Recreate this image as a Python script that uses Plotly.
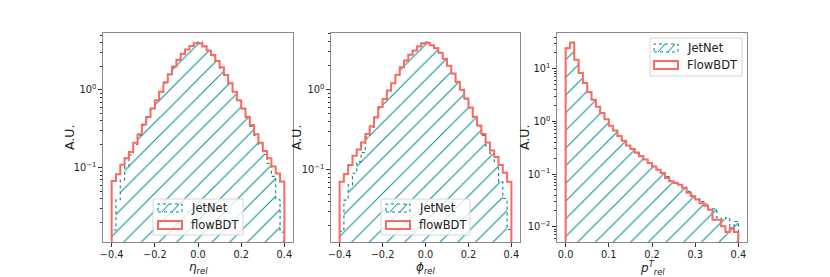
import numpy as np
import plotly.graph_objects as go

W, H = 830, 277
FONT = "DejaVu Sans"
TEAL = "#008b8b"
RED = "#f96b60"
FRAME = "#8a8a8a"

# ---------------- data ----------------
eta_bins = (-0.4, 0.4, 40)
phi_bins = (-0.4, 0.4, 40)
pt_bins = (0.0, 0.4, 40)

eta_jetnet = [0.016, 0.039, 0.07, 0.104, 0.147, 0.2, 0.26, 0.35, 0.44, 0.57,
              0.73, 0.94, 1.23, 1.57, 1.97, 2.4, 2.88, 3.3, 3.7, 4.05,
              4.1, 3.65, 3.2, 2.75, 2.3, 1.9, 1.52, 1.2, 0.94, 0.73,
              0.57, 0.44, 0.34, 0.26, 0.2, 0.15, 0.115, 0.078, 0.039, 0.015]
eta_flowbdt = [0.068, 0.083, 0.11, 0.133, 0.16, 0.21, 0.27, 0.36, 0.45, 0.58,
               0.74, 0.95, 1.25, 1.59, 1.99, 2.43, 2.9, 3.3, 3.67, 3.97,
               3.95, 3.6, 3.2, 2.8, 2.35, 1.95, 1.55, 1.22, 0.95, 0.74,
               0.58, 0.45, 0.355, 0.27, 0.21, 0.165, 0.133, 0.104, 0.085, 0.067]

phi_jetnet = [0.017, 0.042, 0.065, 0.091, 0.127, 0.165, 0.26, 0.34, 0.45, 0.6,
              0.76, 0.97, 1.2, 1.53, 1.9, 2.3, 2.75, 3.1, 3.5, 3.85,
              3.95, 3.6, 3.3, 2.9, 2.42, 1.98, 1.58, 1.24, 0.99, 0.77,
              0.6, 0.45, 0.35, 0.27, 0.2, 0.16, 0.127, 0.071, 0.044, 0.018]
phi_flowbdt = [0.071, 0.089, 0.115, 0.15, 0.18, 0.22, 0.28, 0.35, 0.455, 0.61,
               0.77, 0.98, 1.21, 1.54, 1.92, 2.32, 2.74, 3.1, 3.47, 3.8,
               3.85, 3.6, 3.3, 2.9, 2.45, 2.0, 1.6, 1.25, 1.0, 0.78,
               0.6, 0.46, 0.36, 0.28, 0.22, 0.175, 0.145, 0.115, 0.092, 0.071]

pt_jetnet = [24.5, 31.0, 15.0, 8.4, 5.4, 3.65, 2.6, 1.92, 1.45, 1.1,
             0.84, 0.67, 0.54, 0.43, 0.35, 0.3, 0.26, 0.215, 0.19, 0.165,
             0.14, 0.123, 0.107, 0.09, 0.075, 0.07, 0.064, 0.057, 0.047, 0.04,
             0.034, 0.03, 0.027, 0.022, 0.022, 0.0148, 0.0138, 0.0148, 0.0102, 0.0126]
pt_flowbdt = [24.7, 31.5, 14.8, 8.3, 5.35, 3.6, 2.58, 1.9, 1.44, 1.1,
              0.83, 0.67, 0.53, 0.43, 0.35, 0.3, 0.255, 0.22, 0.19, 0.162,
              0.14, 0.121, 0.105, 0.084, 0.073, 0.068, 0.063, 0.055, 0.044, 0.038,
              0.033, 0.028, 0.025, 0.021, 0.0136, 0.0136, 0.0102, 0.0079, 0.0095, 0.0079]

x_labels = ["<i>η</i><sub><i>rel</i></sub>", "<i>ϕ</i><sub><i>rel</i></sub>",
            "<i>p</i><sup><i>T</i></sup><sub><i>rel</i></sub>"]
legend_names = [("JetNet", "flowBDT"), ("JetNet", "flowBDT"), ("JetNet", "FlowBDT")]
sym_ticks = [-0.4, -0.2, 0.0, 0.2, 0.4]
sym_ticktext = ["−0.4", "−0.2", "0.0", "0.2", "0.4"]
pt_ticks = [0.0, 0.1, 0.2, 0.3, 0.4]
pt_ticktext = ["0.0", "0.1", "0.2", "0.3", "0.4"]

# ---------------- layout geometry (pixels) ----------------
panels_px = [(103, 293), (331, 520), (557, 747)]
top_px, bot_px = 33, 242
yranges = [[-1.95, 0.73], [-1.90, 0.71], [-2.29, 1.68]]
xranges = [[-0.44, 0.44], [-0.44, 0.44], [-0.02, 0.42]]


def px(x):
    return x / W


def py(y):
    return 1 - y / H


def step_polygon(bins, vals, floor):
    lo, hi, n = bins
    edges = np.linspace(lo, hi, n + 1)
    xs = [edges[0]]
    ys = [floor]
    for i, v in enumerate(vals):
        xs += [edges[i], edges[i + 1]]
        ys += [v, v]
    xs += [edges[-1]]
    ys += [floor]
    return xs, ys


fig = go.Figure()

datasets = [(eta_bins, eta_jetnet, eta_flowbdt),
            (phi_bins, phi_jetnet, phi_flowbdt),
            (pt_bins, pt_jetnet, pt_flowbdt)]

for k, (bins, jn, fb) in enumerate(datasets):
    xa = "x" if k == 0 else f"x{k+1}"
    ya = "y" if k == 0 else f"y{k+1}"
    xs, ys = step_polygon(bins, jn, 1e-5)
    fig.add_trace(go.Scatter(
        x=xs, y=ys, xaxis=xa, yaxis=ya, mode="lines", fill="toself",
        fillcolor="rgba(0,0,0,0)",
        fillpattern=dict(shape="/", fgcolor=TEAL, fgopacity=1, bgcolor="rgba(0,0,0,0)",
                         size=12.5, solidity=0.08),
        line=dict(color=TEAL, width=1.1, dash="dot"),
        name=legend_names[k][0], showlegend=False, hoverinfo="skip"))
    xs, ys = step_polygon(bins, fb, 1e-5)
    fig.add_trace(go.Scatter(
        x=xs, y=ys, xaxis=xa, yaxis=ya, mode="lines",
        line=dict(color=RED, width=2),
        name=legend_names[k][1], showlegend=False, hoverinfo="skip"))

common = dict(showline=True, mirror=True, linecolor=FRAME, linewidth=1.3,
              ticks="outside", ticklen=3.5, tickwidth=0.9, tickcolor="#333",
              showgrid=False, zeroline=False, automargin=False,
              tickfont=dict(family=FONT, size=9.8, color="#222"))

layout = dict(width=W, height=H, margin=dict(l=0, r=0, t=0, b=0, autoexpand=False),
              paper_bgcolor="white", plot_bgcolor="white", autosize=False,
              font=dict(family=FONT, color="#222"))

for k in range(3):
    l, r = panels_px[k]
    xkey = "xaxis" if k == 0 else f"xaxis{k+1}"
    ykey = "yaxis" if k == 0 else f"yaxis{k+1}"
    yanchor = "y" if k == 0 else f"y{k+1}"
    xanchor = "x" if k == 0 else f"x{k+1}"
    if k < 2:
        tv, tt = sym_ticks, sym_ticktext
    else:
        tv, tt = pt_ticks, pt_ticktext
    layout[xkey] = dict(common, domain=[px(l), px(r)], anchor=yanchor,
                        range=xranges[k], tickmode="array", tickvals=tv, ticktext=tt)
    lo, hi = yranges[k]
    majors = [d for d in range(int(np.floor(lo)), int(np.ceil(hi)) + 1) if lo <= d <= hi]
    majvals = [10.0 ** d for d in majors]
    majtext = [f"10<sup>{'−' + str(-d) if d < 0 else d}</sup>" for d in majors]
    minvals = [m * 10.0 ** d for d in range(int(np.floor(lo)), int(np.ceil(hi)) + 1)
               for m in range(2, 10) if lo <= np.log10(m * 10.0 ** d) <= hi]
    layout[ykey] = dict(common, domain=[py(bot_px), py(top_px)], anchor=xanchor,
                        type="log", range=yranges[k], tickmode="array",
                        tickvals=majvals, ticktext=majtext,
                        minor=dict(tickmode="array", tickvals=minvals, ticks="outside",
                                   ticklen=2, tickwidth=0.6, tickcolor="#333"))

fig.update_layout(**layout)

annotations = []
shapes = []

# axis titles
ylab_x = [69, 296, 524]
for k in range(3):
    annotations.append(dict(x=px(ylab_x[k]), y=py(138), xref="paper", yref="paper",
                            text="A.U.", textangle=-90, showarrow=False,
                            font=dict(family=FONT, size=12.5, color="#222"),
                            xanchor="center", yanchor="middle"))
    cx = (panels_px[k][0] + panels_px[k][1]) / 2
    annotations.append(dict(x=px(cx), y=py(267.5), xref="paper", yref="paper",
                            text=x_labels[k], showarrow=False,
                            font=dict(family=FONT, size=12, color="#222"),
                            xanchor="center", yanchor="middle"))


def add_legend(box, patch_x, p1_y, p2_y, text_x, names):
    bx0, by0, bx1, by1 = box
    shapes.append(dict(type="rect", xref="paper", yref="paper", layer="above",
                       x0=px(bx0), x1=px(bx1), y0=py(by1), y1=py(by0),
                       fillcolor="rgba(255,255,255,0.8)",
                       line=dict(color="#d6d6d6", width=1)))
    x0, x1 = patch_x
    shapes.append(dict(type="rect", xref="paper", yref="paper", layer="above",
                       x0=px(x0), x1=px(x1), y0=py(p1_y[1]), y1=py(p1_y[0]),
                       fillcolor="rgba(0,0,0,0)",
                       line=dict(color=TEAL, width=1, dash="dot")))
    for off in (4, 14):
        shapes.append(dict(type="line", xref="paper", yref="paper", layer="above",
                           x0=px(x0 + off), y0=py(p1_y[1]),
                           x1=px(x0 + off + 7), y1=py(p1_y[0]),
                           line=dict(color=TEAL, width=1)))
    shapes.append(dict(type="rect", xref="paper", yref="paper", layer="above",
                       x0=px(x0), x1=px(x1), y0=py(p2_y[1]), y1=py(p2_y[0]),
                       fillcolor="rgba(0,0,0,0)",
                       line=dict(color=RED, width=2)))
    for name, (a, b) in zip(names, (p1_y, p2_y)):
        annotations.append(dict(x=px(text_x), y=py((a + b) / 2), xref="paper", yref="paper",
                                text=name, showarrow=False, xanchor="left", yanchor="middle",
                                font=dict(family=FONT, size=11.5, color="#222")))


add_legend((153, 199, 243, 235), (158, 182), (204, 212), (221, 229), 189, legend_names[0])
add_legend((381, 199, 470, 235), (386, 410), (204, 212), (221, 229), 417, legend_names[1])
add_legend((650, 38, 742, 76), (654, 678), (44, 52), (61, 69), 685, legend_names[2])

fig.update_layout(annotations=annotations, shapes=shapes)

fig.write_html("out.html", config={"displayModeBar": False},
               post_script="document.body.style.margin='0';document.body.style.overflow='hidden';")
